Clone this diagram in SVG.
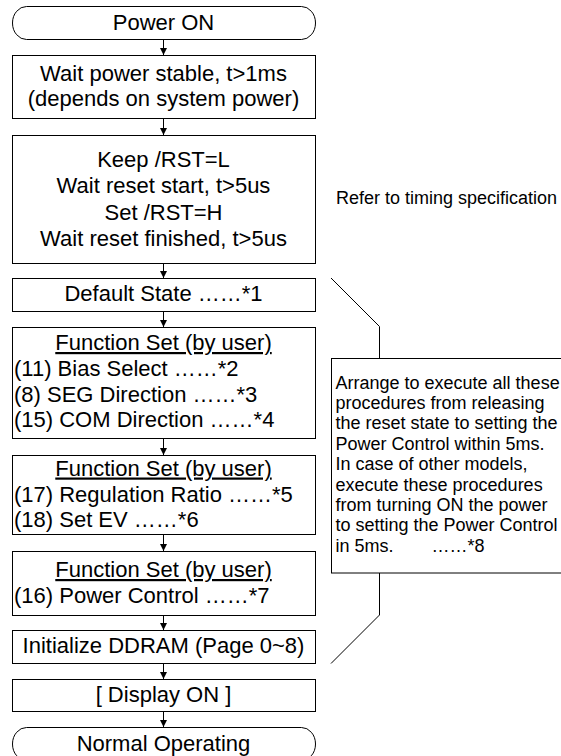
<svg xmlns="http://www.w3.org/2000/svg" width="561" height="756" viewBox="0 0 561 756">
<style>
.box{fill:#fff;stroke:#000;stroke-width:1}
.t{font-family:"Liberation Sans",Arial,sans-serif;font-size:22px;fill:#000}
.c{text-anchor:middle}
.u{text-decoration:underline}
.n{font-family:"Liberation Sans",Arial,sans-serif;font-size:18px;fill:#000}
.conn{stroke:#000;stroke-width:1;fill:none}
</style>
<defs>
<marker id="ah" markerWidth="8" markerHeight="8" refX="7" refY="3.5" orient="auto" markerUnits="userSpaceOnUse">
<path d="M0,0 L7,3.5 L0,7 z" fill="#000"/>
</marker>
</defs>
<rect width="561" height="756" fill="#fff"/>

<g id="connectors">
<line class="conn" x1="163.5" y1="39.5" x2="163.5" y2="55" marker-end="url(#ah)"/>
<line class="conn" x1="163.5" y1="118.5" x2="163.5" y2="135" marker-end="url(#ah)"/>
<line class="conn" x1="163.5" y1="263.5" x2="163.5" y2="278" marker-end="url(#ah)"/>
<line class="conn" x1="163.5" y1="311.5" x2="163.5" y2="327" marker-end="url(#ah)"/>
<line class="conn" x1="163.5" y1="438.5" x2="163.5" y2="455" marker-end="url(#ah)"/>
<line class="conn" x1="163.5" y1="534.5" x2="163.5" y2="551" marker-end="url(#ah)"/>
<line class="conn" x1="163.5" y1="615.5" x2="163.5" y2="630" marker-end="url(#ah)"/>
<line class="conn" x1="163.5" y1="663.5" x2="163.5" y2="679" marker-end="url(#ah)"/>
<line class="conn" x1="163.5" y1="711.5" x2="163.5" y2="727" marker-end="url(#ah)"/>
<polyline class="conn" points="331,278 379.5,326.5 379.5,358.5"/>
<polyline class="conn" points="379.5,573 379.5,615 331,663.5"/>
</g>

<g id="power-on">
<rect class="box" x="12.5" y="6.5" width="303" height="33" rx="14" ry="16.5"/>
<text class="t c" x="163.5" y="29.5">Power ON</text>
</g>

<g id="wait-power">
<rect class="box" x="12.5" y="55.5" width="303" height="63"/>
<text class="t c" x="163.5" y="80.5">Wait power stable, t&gt;1ms</text>
<text class="t c" x="163.5" y="106">(depends on system power)</text>
</g>

<g id="reset">
<rect class="box" x="12.5" y="135.5" width="303" height="128"/>
<text class="t c" x="163.5" y="166.5">Keep /RST=L</text>
<text class="t c" x="163.5" y="193">Wait reset start, t&gt;5us</text>
<text class="t c" x="163.5" y="219.5">Set /RST=H</text>
<text class="t c" x="163.5" y="246">Wait reset finished, t&gt;5us</text>
</g>

<g id="timing-note">
<text class="n" x="336" y="203.5">Refer to timing specification</text>
</g>

<g id="default-state">
<rect class="box" x="12.5" y="278.5" width="303" height="33"/>
<text class="t c" x="163.5" y="301">Default State ……*1</text>
</g>

<g id="function-set-1">
<rect class="box" x="12.5" y="327.5" width="303" height="111"/>
<text class="t c u" x="163.5" y="350">Function Set (by user)</text>
<text class="t" x="14" y="375.5">(11) Bias Select ……*2</text>
<text class="t" x="14" y="401.5">(8) SEG Direction ……*3</text>
<text class="t" x="14" y="427">(15) COM Direction ……*4</text>
</g>

<g id="function-set-2">
<rect class="box" x="12.5" y="455.5" width="303" height="79"/>
<text class="t c u" x="163.5" y="475.5">Function Set (by user)</text>
<text class="t" x="14" y="501.5">(17) Regulation Ratio ……*5</text>
<text class="t" x="14" y="527">(18) Set EV ……*6</text>
</g>

<g id="function-set-3">
<rect class="box" x="12.5" y="551.5" width="303" height="64"/>
<text class="t c u" x="163.5" y="577">Function Set (by user)</text>
<text class="t" x="14" y="603">(16) Power Control ……*7</text>
</g>

<g id="init-ddram">
<rect class="box" x="12.5" y="630.5" width="303" height="33"/>
<text class="t c" x="163.5" y="653">Initialize DDRAM (Page 0~8)</text>
</g>

<g id="display-on">
<rect class="box" x="12.5" y="679.5" width="303" height="32"/>
<text class="t c" x="163.5" y="702">[ Display ON ]</text>
</g>

<g id="normal-operating">
<rect class="box" x="12.5" y="727.5" width="303" height="33" rx="14" ry="16.5"/>
<text class="t c" x="163.5" y="750.5">Normal Operating</text>
</g>

<g id="time-note">
<rect class="box" x="331.5" y="358.5" width="240" height="214.5"/>
<text class="n" x="335.5" y="388.5">Arrange to execute all these</text>
<text class="n" x="335.5" y="408.9">procedures from releasing</text>
<text class="n" x="335.5" y="429.3">the reset state to setting the</text>
<text class="n" x="335.5" y="449.7">Power Control within 5ms.</text>
<text class="n" x="335.5" y="470.1">In case of other models,</text>
<text class="n" x="335.5" y="490.5">execute these procedures</text>
<text class="n" x="335.5" y="510.9">from turning ON the power</text>
<text class="n" x="335.5" y="531.3">to setting the Power Control</text>
<text class="n" x="335.5" y="551.7">in 5ms.<tspan x="431.5">……*8</tspan></text>
</g>
</svg>
